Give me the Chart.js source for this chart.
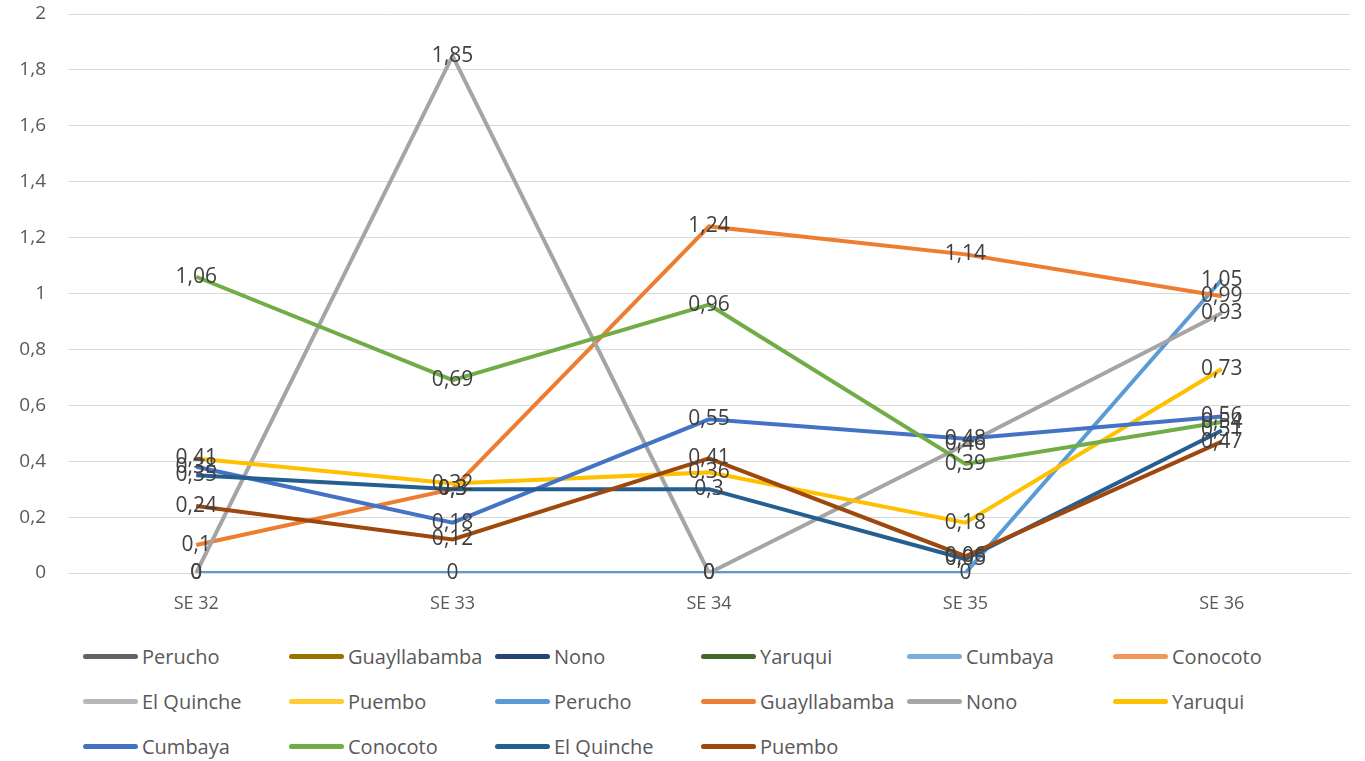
<!DOCTYPE html>
<html>
<head>
<meta charset="utf-8">
<script src="https://cdn.jsdelivr.net/npm/chart.js@4.4.1/dist/chart.umd.min.js"></script>
<style>
  html,body{margin:0;padding:0;background:#fff;}
  #wrap{position:relative;width:1365px;height:761px;overflow:hidden;}
  #c{position:absolute;left:0;top:0;}
  #legend{position:absolute;left:83px;top:634px;display:grid;grid-template-columns:repeat(6,206px);grid-auto-rows:45px;
    font-family:'Open Sans','Noto Sans',sans-serif;font-size:20px;color:#595959;}
  .li{display:flex;align-items:center;white-space:nowrap;}
  .sw{width:55px;height:5px;border-radius:3px;margin-right:4px;flex:none;}
</style>
</head>
<body>
<div id="wrap">
  <canvas id="c" width="1365" height="630"></canvas>
  <div id="legend"></div>
</div>
<script>
// Data
const categories = ['SE 32', 'SE 33', 'SE 34', 'SE 35', 'SE 36'];
const seriesNames = ['Perucho', 'Guayllabamba', 'Nono', 'Yaruqui', 'Cumbaya', 'Conocoto', 'El Quinche', 'Puembo'];

// first block of series has no values plotted
const emptyVals = [null, null, null, null, null];

// second block
const perucho      = [0, 0, 0, 0, 1.05];
const guayllabamba = [0.1, 0.3, 1.24, 1.14, 0.99];
const nono         = [0, 1.85, 0, 0.46, 0.93];
const yaruqui      = [0.41, 0.32, 0.36, 0.18, 0.73];
const cumbaya      = [0.38, 0.18, 0.55, 0.48, 0.56];
const conocoto     = [1.06, 0.69, 0.96, 0.39, 0.54];
const elQuinche    = [0.35, 0.3, 0.3, 0.05, 0.51];
const puembo       = [0.24, 0.12, 0.41, 0.06, 0.47];

const colorsA = ['#636363', '#997300', '#264478', '#43682B', '#7CAFDD', '#F1975A', '#B7B7B7', '#FFCD33'];
const colorsB = ['#5B9BD5', '#ED7D31', '#A5A5A5', '#FFC000', '#4472C4', '#70AD47', '#255E91', '#9E480E'];
const valuesB = [perucho, guayllabamba, nono, yaruqui, cumbaya, conocoto, elQuinche, puembo];

const FONT = '"Open Sans", "Noto Sans", sans-serif';
const fmtComma = (v)=> String(Math.round(v*100)/100).replace('.', ',');

// Datasets
const datasets = [];
seriesNames.forEach((n,i)=> datasets.push({ label:n, data:emptyVals, borderColor:colorsA[i], backgroundColor:colorsA[i] }));
seriesNames.forEach((n,i)=> datasets.push({ label:n, data:valuesB[i], borderColor:colorsB[i], backgroundColor:colorsB[i] }));
const N = datasets.length;
datasets.forEach((d,i)=>{
  d.borderWidth = 4;
  d.pointRadius = 0;
  d.pointHoverRadius = 0;
  d.tension = 0;
  d.fill = false;
  d.order = N - i; // later series on top, like Excel
});

// Data labels, centred on each point
const valueLabels = {
  id:'valueLabels',
  afterDatasetsDraw(chart){
    const ctx = chart.ctx;
    ctx.save();
    ctx.font = `21px ${FONT}`;
    ctx.fillStyle = '#404040';
    ctx.textAlign = 'center';
    ctx.textBaseline = 'middle';
    chart.data.datasets.forEach((ds, di)=>{
      const meta = chart.getDatasetMeta(di);
      meta.data.forEach((pt, k)=>{
        const v = ds.data[k];
        if (v === null || v === undefined) return;
        ctx.fillText(fmtComma(v), pt.x, pt.y);
      });
    });
    ctx.restore();
  }
};

const chart = new Chart(document.getElementById('c'), {
  type:'line',
  data:{ labels:categories, datasets },
  options:{
    responsive:false, animation:false,
    layout:{ padding:{ left:0, right:15, top:0, bottom:0 } },
    plugins:{ legend:{ display:false }, tooltip:{ enabled:false } },
    scales:{
      x:{
        offset:true,
        grid:{ display:false, drawTicks:false },
        border:{ color:'#d9d9d9', width:1 },
        ticks:{ color:'#595959', font:{ family:FONT, size:18 }, padding:20 },
        afterFit:(s)=>{ s.height = 57; }
      },
      y:{
        min:0, max:2,
        grid:{ color:'#d9d9d9', lineWidth:1, drawTicks:false },
        border:{ display:false },
        ticks:{ stepSize:0.2, color:'#595959', font:{ family:FONT, size:19 }, padding:22,
          callback:(v)=> fmtComma(v) },
        afterFit:(s)=>{ s.width = 68; s.paddingTop = 14; s.paddingBottom = 0; }
      }
    }
  },
  plugins:[valueLabels]
});

// HTML legend in fixed columns
const leg = document.getElementById('legend');
datasets.forEach(d=>{
  const item = document.createElement('div');
  item.className = 'li';
  const sw = document.createElement('span');
  sw.className = 'sw';
  sw.style.background = d.borderColor;
  const tx = document.createElement('span');
  tx.textContent = d.label;
  item.appendChild(sw); item.appendChild(tx);
  leg.appendChild(item);
});
</script>
</body>
</html>
